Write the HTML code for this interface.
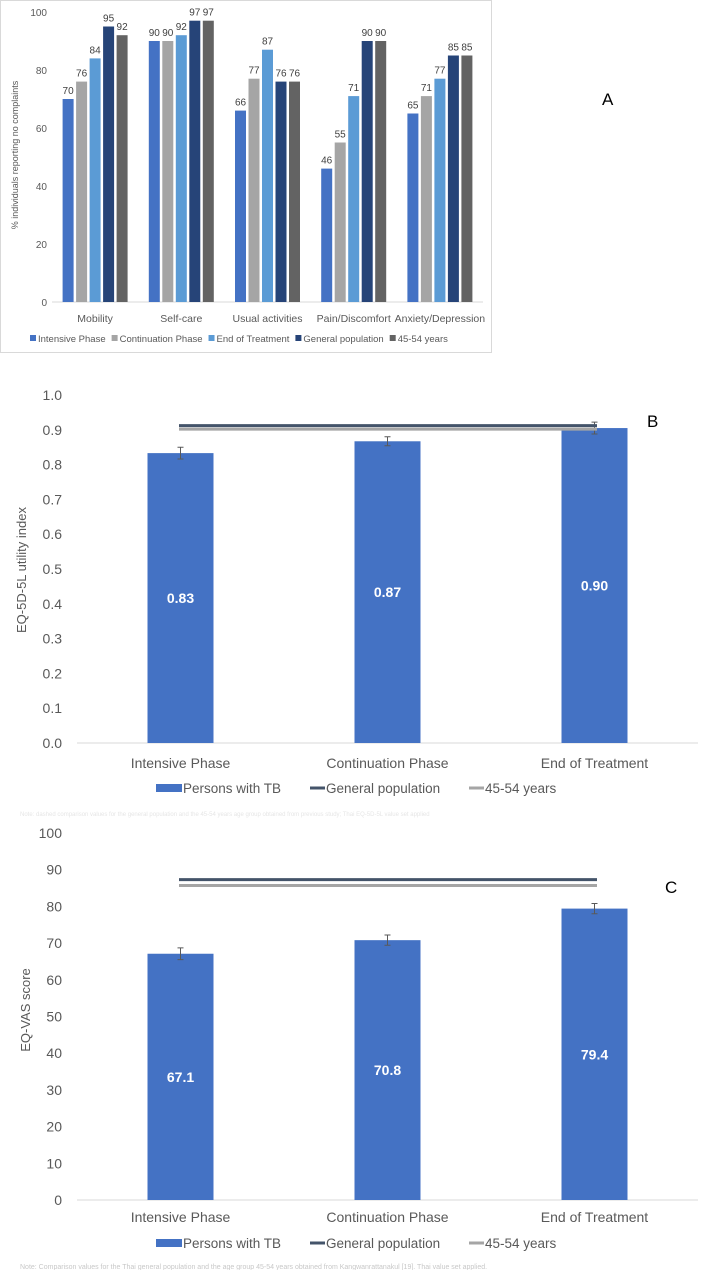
<!DOCTYPE html>
<html><head><meta charset="utf-8">
<style>
html,body{margin:0;padding:0;background:#fff;}
svg{display:block;font-family:"Liberation Sans",sans-serif;}
</style></head>
<body>
<svg id="s" width="705" height="1270" viewBox="0 0 705 1270" xmlns="http://www.w3.org/2000/svg">
<rect x="0.5" y="0.5" width="491" height="352" fill="#fff" stroke="#d9d9d9"/>
<text x="18" y="155" transform="rotate(-90 18 155)" text-anchor="middle" font-size="9" fill="#595959">% individuals  reporting no complaints</text>
<text x="602" y="105" font-size="17" fill="#000">A</text>
<text x="26" y="570" transform="rotate(-90 26 570)" text-anchor="middle" font-size="13" fill="#595959">EQ-5D-5L utility index</text>
<text x="647" y="427" font-size="17" fill="#000">B</text>
<text x="30" y="1010" transform="rotate(-90 30 1010)" text-anchor="middle" font-size="13" fill="#595959">EQ-VAS score</text>
<text x="665" y="893" font-size="17" fill="#000">C</text>
<text x="20" y="816" font-size="6" fill="#e6e6e6">Note: dashed comparison values for the general population and the 45-54 years age group obtained from previous study; Thai EQ-5D-5L value set applied</text>
<text x="20" y="1269" font-size="7" fill="#c8c8c8">Note: Comparison values for the Thai general population and the age group 45-54 years obtained from Kangwanrattanakul [19]. Thai value set applied.</text>
<g id="ga"></g><g id="gb"></g><g id="gc"></g>
</svg>
<script>
const aCategories=["Mobility","Self-care","Usual activities","Pain/Discomfort","Anxiety/Depression"];
const aSeriesNames=["Intensive Phase","Continuation Phase","End of Treatment","General population","45-54 years"];
const aIntensive=[70,90,66,46,65];
const aContinuation=[76,90,77,55,71];
const aEnd=[84,92,87,71,77];
const aGeneral=[95,97,76,90,85];
const aAge=[92,97,76,90,85];
const aTicks=[0,20,40,60,80,100];
const bCategories=["Intensive Phase","Continuation Phase","End of Treatment"];
const bValues=[0.833,0.867,0.905];
const bErrors=[0.017,0.013,0.017];
const bLabels=["0.83","0.87","0.90"];
const bGeneral=0.912;
const bAge=0.902;
const bTicks=[0,0.1,0.2,0.3,0.4,0.5,0.6,0.7,0.8,0.9,1.0];
const cValues=[67.1,70.8,79.4];
const cErrors=[1.6,1.4,1.4];
const cGeneral=87.3;
const cAge=85.7;
const cTicks=[0,10,20,30,40,50,60,70,80,90,100];

const NS="http://www.w3.org/2000/svg";
function mk(p,tag,attrs,txt){const e=document.createElementNS(NS,tag);for(const k in attrs)e.setAttribute(k,attrs[k]);if(txt!==undefined)e.textContent=txt;p.appendChild(e);return e;}

// Panel A
(function(){
const g=document.getElementById('ga');
const x0=52,x1=483,y0=302,y1=12;
const ys=v=>y0-(v/100)*(y0-y1);
const cw=(x1-x0)/aCategories.length;
const cx=i=>x0+cw*(i+0.5);
const cols=["#4472C4","#A5A5A5","#5B9BD5","#264478","#636363"];
const series=[aIntensive,aContinuation,aEnd,aGeneral,aAge];
aTicks.forEach(t=>{const e=mk(g,'text',{x:47,y:ys(t)+4,'text-anchor':'end','font-size':10,fill:'#595959'},String(t));

});
const ax=mk(g,'line',{x1:x0,x2:x1,y1:y0,y2:y0,stroke:'#d9d9d9'});


aCategories.forEach((c,i)=>{
 const t=mk(g,'text',{x:cx(i),y:322,'text-anchor':'middle','font-size':10.5,fill:'#595959'},c);
 
 
 series.forEach((s,j)=>{
  const bx=cx(i)+(j-2)*13.5-5.5;
  const r=mk(g,'rect',{x:bx,y:ys(s[i]),width:11,height:y0-ys(s[i]),fill:cols[j]});
  
  
  const l=mk(g,'text',{x:bx+5.5,y:ys(s[i])-5,'text-anchor':'middle','font-size':10,fill:'#404040'},String(s[i]));
  
  
 });
});
let lx=30;
aSeriesNames.forEach((n,j)=>{
 const sw=mk(g,'rect',{x:lx,y:335,width:6,height:6,fill:cols[j]});
 
 
 const t=mk(g,'text',{x:lx+8,y:342,'font-size':9.5,fill:'#595959'},n);
 
 
 lx+=8+t.getComputedTextLength()+6;
});
})();

function lineChart(gid,prefix,vals,errs,labels,gen,age,ticks,vmax,y0,yTop,catY,legY,tickFmt,lineX1,lineX2){
 const g=document.getElementById(gid);
 const x0=77,x1=698;
 const ys=v=>y0-(v/vmax)*(y0-yTop);
 const cw=(x1-x0)/bCategories.length;
 const cx=i=>x0+cw*(i+0.5);
 ticks.forEach(t=>{const e=mk(g,'text',{x:62,y:ys(t)+5,'text-anchor':'end','font-size':14,fill:'#595959'},tickFmt(t));
 
 });
 const ax=mk(g,'line',{x1:x0,x2:x1,y1:y0,y2:y0,stroke:'#d9d9d9'});
 
 
 bCategories.forEach((c,i)=>{
  const r=mk(g,'rect',{x:cx(i)-33,y:ys(vals[i]),width:66,height:y0-ys(vals[i]),fill:'#4472C4'});
  
  
  const eh=ys(vals[i]-errs[i]),el=ys(vals[i]+errs[i]);
  const eb=mk(g,'path',{d:`M${cx(i)} ${eh}V${el}M${cx(i)-3} ${eh}h6M${cx(i)-3} ${el}h6`,stroke:'#595959','stroke-width':1,fill:'none'});
  
  
  const l=mk(g,'text',{x:cx(i),y:(ys(vals[i])+y0)/2+5,'text-anchor':'middle','font-size':14,'font-weight':'bold',fill:'#fff'},labels[i]);
  
  
  const t=mk(g,'text',{x:cx(i),y:catY,'text-anchor':'middle','font-size':14,fill:'#595959'},c);
  
  
 });
 const la=mk(g,'line',{x1:lineX1,x2:lineX2,y1:ys(age),y2:ys(age),stroke:'#A5A5A5','stroke-width':3});
 
 
 const lg=mk(g,'line',{x1:lineX1,x2:lineX2,y1:ys(gen),y2:ys(gen),stroke:'#44546A','stroke-width':3});
 
 
 const sw=mk(g,'rect',{x:156,y:legY-11,width:26,height:8,fill:'#4472C4'});
 
 
 const t1=mk(g,'text',{x:183,y:legY-2,'font-size':13.5,fill:'#595959'},'Persons with TB');
 
 
 const l2=mk(g,'line',{x1:310,x2:325,y1:legY-7,y2:legY-7,stroke:'#44546A','stroke-width':3});
 
 
 const t2=mk(g,'text',{x:326,y:legY-2,'font-size':13.5,fill:'#595959'},'General population');
 
 
 const l3=mk(g,'line',{x1:469,x2:484,y1:legY-7,y2:legY-7,stroke:'#A5A5A5','stroke-width':3});
 
 
 const t3=mk(g,'text',{x:485,y:legY-2,'font-size':13.5,fill:'#595959'},'45-54 years');
 
 
}
lineChart('gb','b',bValues,bErrors,bLabels,bGeneral,bAge,bTicks,1.0,743,395,768,795,t=>t.toFixed(1),179,597);
lineChart('gc','c',cValues,cErrors,cValues.map(v=>v.toFixed(1)),cGeneral,cAge,cTicks,100,1200,833,1222,1250,t=>String(t),179,597);
</script>
</body></html>
